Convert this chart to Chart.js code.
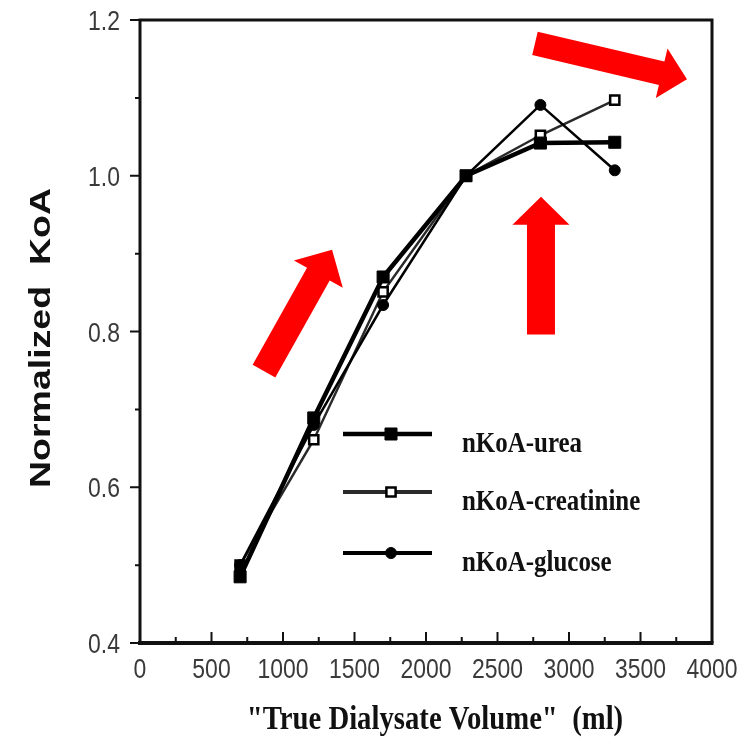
<!DOCTYPE html>
<html>
<head>
<meta charset="utf-8">
<script src="https://cdn.jsdelivr.net/npm/chart.js@4.4.1/dist/chart.umd.min.js"></script>
<style>
  html, body { margin: 0; padding: 0; background: #fff; }
  canvas { display: block; }
</style>
</head>
<body>
<canvas id="koa" width="753" height="745"></canvas>
<script>
// Dialysate volume (ml) and normalized KoA per solute
const volumes = [700, 1215, 1700, 2280, 2800, 3320];
const ureaKoA = [0.485, 0.689, 0.870, 1.000, 1.042, 1.043];
const creatinineKoA = [0.500, 0.661, 0.851, 1.000, 1.052, 1.097];
const glucoseKoA = [0.500, 0.680, 0.834, 1.000, 1.091, 1.007];
const seriesLabels = ['nKoA-urea', 'nKoA-creatinine', 'nKoA-glucose'];

// Axis ticks
const xTickValues = [0, 500, 1000, 1500, 2000, 2500, 3000, 3500, 4000];
const xMinorValues = [250, 750, 1250, 1750, 2250, 2750, 3250, 3750];
const yTickValues = [0.4, 0.6, 0.8, 1.0, 1.2];
const yMinorValues = [0.5, 0.7, 0.9, 1.1];

const xTitle = '"True Dialysate Volume"  (ml)';
const yTitle = 'Normalized  KoA';

// Red highlight arrows, given as tail/tip in axis units
const arrows = [
  { from: [867, 0.749], to: [1343, 0.905], shaft: 26, head: 56, headLen: 28 },
  { from: [2804, 0.796], to: [2804, 0.973], shaft: 28, head: 57, headLen: 28 },
  { from: [2762, 1.170], to: [3825, 1.124], shaft: 24, head: 51, headLen: 26 }
];

const toPoints = ys => volumes.map((v, i) => ({ x: v, y: ys[i] }));

// narrow tick-label lettering
function narrowText(ctx, text, px, py, align) {
  ctx.save();
  ctx.translate(px, py);
  ctx.scale(0.82, 1);
  ctx.font = '28px "Liberation Sans", Arial, sans-serif';
  ctx.fillStyle = '#3a3a3a';
  ctx.textAlign = align;
  ctx.textBaseline = 'alphabetic';
  ctx.fillText(text, 0, 0);
  ctx.restore();
}

const decor = {
  id: 'decor',
  beforeDatasetsDraw(chart) {
    const { ctx, chartArea: a, scales: { x, y } } = chart;
    ctx.save();
    ctx.strokeStyle = '#111';
    ctx.lineCap = 'butt';
    // frame
    ctx.lineWidth = 3;
    ctx.beginPath();
    ctx.moveTo(a.left, a.bottom); ctx.lineTo(a.left, a.top);
    ctx.lineTo(a.right, a.top); ctx.lineTo(a.right, a.bottom);
    ctx.stroke();
    ctx.lineWidth = 4;
    ctx.beginPath();
    ctx.moveTo(a.left - 2, a.bottom); ctx.lineTo(a.right + 1.5, a.bottom);
    ctx.stroke();
    // x ticks point inward
    ctx.lineWidth = 2;
    ctx.beginPath();
    xTickValues.forEach(v => { const p = x.getPixelForValue(v); ctx.moveTo(p, a.bottom); ctx.lineTo(p, a.bottom - 11); });
    xMinorValues.forEach(v => { const p = x.getPixelForValue(v); ctx.moveTo(p, a.bottom); ctx.lineTo(p, a.bottom - 6); });
    // y ticks point outward
    yTickValues.forEach(v => { const p = y.getPixelForValue(v); ctx.moveTo(a.left, p); ctx.lineTo(a.left - 10, p); });
    yMinorValues.forEach(v => { const p = y.getPixelForValue(v); ctx.moveTo(a.left, p); ctx.lineTo(a.left - 5, p); });
    ctx.stroke();
    ctx.restore();

    // tick labels
    xTickValues.forEach(v => narrowText(ctx, String(v), x.getPixelForValue(v), a.bottom + 35, 'center'));
    yTickValues.forEach(v => narrowText(ctx, v.toFixed(1), a.left - 20, y.getPixelForValue(v) + 10, 'right'));
  },
  afterDatasetsDraw(chart) {
    const { ctx, chartArea: a, scales: { x, y } } = chart;
    ctx.save();

    // arrows
    ctx.fillStyle = '#ff0000';
    arrows.forEach(ar => {
      const tx = x.getPixelForValue(ar.from[0]), ty = y.getPixelForValue(ar.from[1]);
      const hx = x.getPixelForValue(ar.to[0]), hy = y.getPixelForValue(ar.to[1]);
      const len = Math.hypot(hx - tx, hy - ty);
      const ux = (hx - tx) / len, uy = (hy - ty) / len;
      const nx = -uy, ny = ux;
      const bx = hx - ux * ar.headLen, by = hy - uy * ar.headLen;
      const s = ar.shaft / 2, h = ar.head / 2;
      ctx.beginPath();
      ctx.moveTo(tx + nx * s, ty + ny * s);
      ctx.lineTo(bx + nx * s, by + ny * s);
      ctx.lineTo(bx + nx * h, by + ny * h);
      ctx.lineTo(hx, hy);
      ctx.lineTo(bx - nx * h, by - ny * h);
      ctx.lineTo(bx - nx * s, by - ny * s);
      ctx.lineTo(tx - nx * s, ty - ny * s);
      ctx.closePath();
      ctx.fill();
    });

    // legend inside the plot
    const rowOffsets = [414, 472, 533];
    chart.data.datasets.forEach((ds, i) => {
      const ry = a.top + rowOffsets[i];
      const x0 = a.left + 203, x1 = a.left + 292, mx = a.left + 251;
      ctx.strokeStyle = ds.borderColor;
      ctx.lineWidth = ds.legendLineWidth;
      ctx.beginPath(); ctx.moveTo(x0, ry); ctx.lineTo(x1, ry); ctx.stroke();
      ctx.fillStyle = ds.pointBackgroundColor;
      ctx.strokeStyle = ds.pointBorderColor;
      ctx.lineWidth = ds.pointBorderWidth;
      Chart.helpers.drawPoint(ctx, { pointStyle: ds.pointStyle, radius: ds.pointRadius, rotation: 0, borderWidth: ds.pointBorderWidth }, mx, ry);
      ctx.save();
      ctx.translate(a.left + 322, ry + 18);
      ctx.scale(0.86, 1);
      ctx.fillStyle = '#111';
      ctx.font = 'bold 29px "Liberation Serif", "Times New Roman", serif';
      ctx.textAlign = 'left';
      ctx.textBaseline = 'alphabetic';
      ctx.fillText(ds.label, 0, 0);
      ctx.restore();
    });

    // axis titles
    ctx.fillStyle = '#111';
    ctx.save();
    ctx.translate(50, 488);
    ctx.rotate(-Math.PI / 2);
    ctx.scale(1.25, 1);
    ctx.font = 'bold 30px "Liberation Sans", Arial, sans-serif';
    ctx.textAlign = 'left';
    ctx.textBaseline = 'alphabetic';
    ctx.fillText(yTitle, 0, 0);
    ctx.restore();

    ctx.save();
    ctx.translate((a.left + a.right) / 2 + 9, 729);
    ctx.scale(0.87, 1);
    ctx.font = 'bold 33px "Liberation Serif", "Times New Roman", serif';
    ctx.textAlign = 'center';
    ctx.textBaseline = 'alphabetic';
    ctx.fillText(xTitle, 0, 0);
    ctx.restore();

    ctx.restore();
  }
};

new Chart(document.getElementById('koa'), {
  type: 'line',
  data: {
    datasets: [
      {
        label: seriesLabels[0], data: toPoints(ureaKoA),
        borderColor: '#000', borderWidth: 4.5, legendLineWidth: 4.5,
        pointStyle: 'rect', pointRadius: 8.5, pointBorderWidth: 1,
        pointBackgroundColor: '#000', pointBorderColor: '#000', order: 0
      },
      {
        label: seriesLabels[1], data: toPoints(creatinineKoA),
        borderColor: '#2a2a2a', borderWidth: 2.5, legendLineWidth: 4,
        pointStyle: 'rect', pointRadius: 6.5, pointBorderWidth: 2.5,
        pointBackgroundColor: '#fff', pointBorderColor: '#000', order: 2
      },
      {
        label: seriesLabels[2], data: toPoints(glucoseKoA),
        borderColor: '#000', borderWidth: 2.5, legendLineWidth: 4,
        pointStyle: 'circle', pointRadius: 5.5, pointBorderWidth: 1,
        pointBackgroundColor: '#000', pointBorderColor: '#000', order: 1
      }
    ]
  },
  options: {
    responsive: false,
    animation: false,
    events: [],
    layout: { padding: { left: 0, top: 20, right: 41, bottom: 0 } },
    plugins: { legend: { display: false }, tooltip: { enabled: false } },
    elements: { line: { tension: 0 } },
    scales: {
      x: {
        type: 'linear', min: 0, max: 4000,
        afterBuildTicks: s => { s.ticks = xTickValues.map(v => ({ value: v })); },
        afterFit: s => { s.height = 102; },
        grid: { display: false }, border: { display: false },
        ticks: { display: false }
      },
      y: {
        type: 'linear', min: 0.4, max: 1.2,
        afterBuildTicks: s => { s.ticks = yTickValues.map(v => ({ value: v })); },
        afterFit: s => { s.width = 140; },
        grid: { display: false }, border: { display: false },
        ticks: { display: false }
      }
    }
  },
  plugins: [decor]
});
</script>
</body>
</html>
